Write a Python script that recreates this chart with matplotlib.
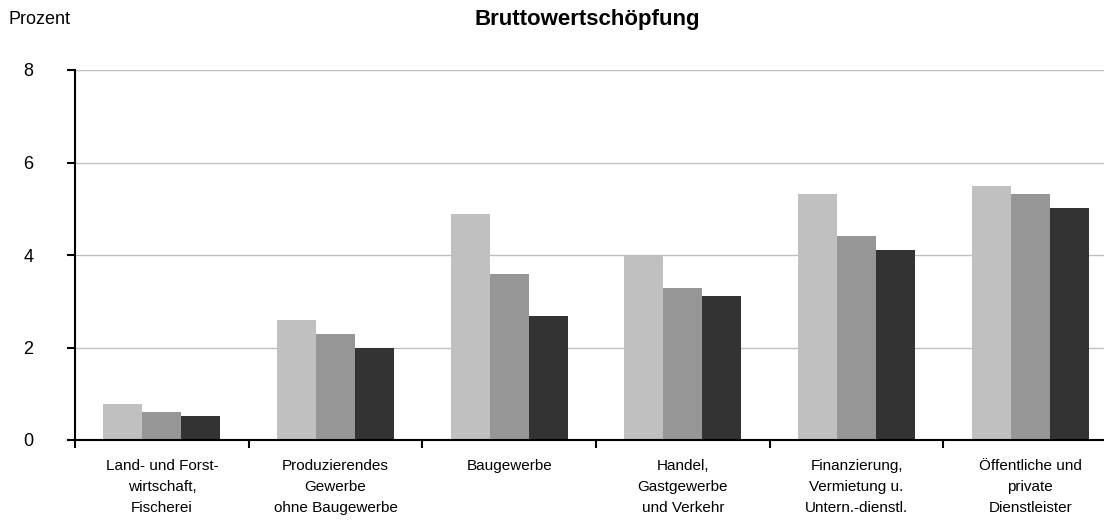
import numpy as np
import matplotlib.pyplot as plt

plt.rcParams['font.family'] = ['Liberation Sans', 'DejaVu Sans']

kategorien = ["Land- und Forst-\nwirtschaft,\nFischerei",
              "Produzierendes\nGewerbe\nohne Baugewerbe",
              "Baugewerbe",
              "Handel,\nGastgewerbe\nund Verkehr",
              "Finanzierung,\nVermietung u.\nUntern.-dienstl.",
              "Öffentliche und\nprivate\nDienstleister"]
reihe_1 = [0.78, 2.6, 4.89, 3.97, 5.32, 5.49]
reihe_2 = [0.6, 2.29, 3.59, 3.29, 4.41, 5.32]
reihe_3 = [0.52, 2.0, 2.68, 3.11, 4.11, 5.02]
y_ticks = [0, 2, 4, 6, 8]

farben = ['#c0c0c0', '#969696', '#333333']

fig = plt.figure(figsize=(11.04, 5.27), dpi=100)
ax = fig.add_axes([75/1104, 87/527, 1042/1104, 370/527])

x = np.arange(len(kategorien))
w = 0.224
for i, (werte, c) in enumerate(zip([reihe_1, reihe_2, reihe_3], farben)):
    ax.bar(x + (i - 1)*w, werte, width=w, color=c, zorder=2)

ax.set_xlim(-0.5, len(kategorien) - 0.5)
ax.set_ylim(0, 8)
ax.set_yticks(y_ticks)
ax.yaxis.grid(True, color='#c0c0c0', linewidth=1)
ax.set_axisbelow(True)

# Ticks an den Kategoriegrenzen, Beschriftung in der Mitte
ax.set_xticks(np.arange(len(kategorien) + 1) - 0.5)
ax.set_xticklabels([])
ax.set_xticks(x, minor=True)
ax.set_xticklabels(kategorien, minor=True, fontsize=11, linespacing=1.6)
ax.tick_params(axis='x', which='major', direction='out', length=6, width=1.5)
ax.tick_params(axis='x', which='minor', length=0, pad=14)
ax.tick_params(axis='y', direction='out', length=6, width=1.5, labelsize=13, pad=24)

for s in ['top', 'right']:
    ax.spines[s].set_visible(False)
ax.spines['left'].set_linewidth(1.5)
ax.spines['bottom'].set_linewidth(1.5)
ax.spines['bottom'].set_zorder(3)

fig.text(8/1104, 1 - 20/527, "Prozent", fontsize=13, va='center', ha='left')
fig.text(587/1104, 1 - 20/527, "Bruttowertschöpfung", fontsize=16, fontweight='bold',
         va='center', ha='center')

fig.savefig('out.png', dpi=100)
